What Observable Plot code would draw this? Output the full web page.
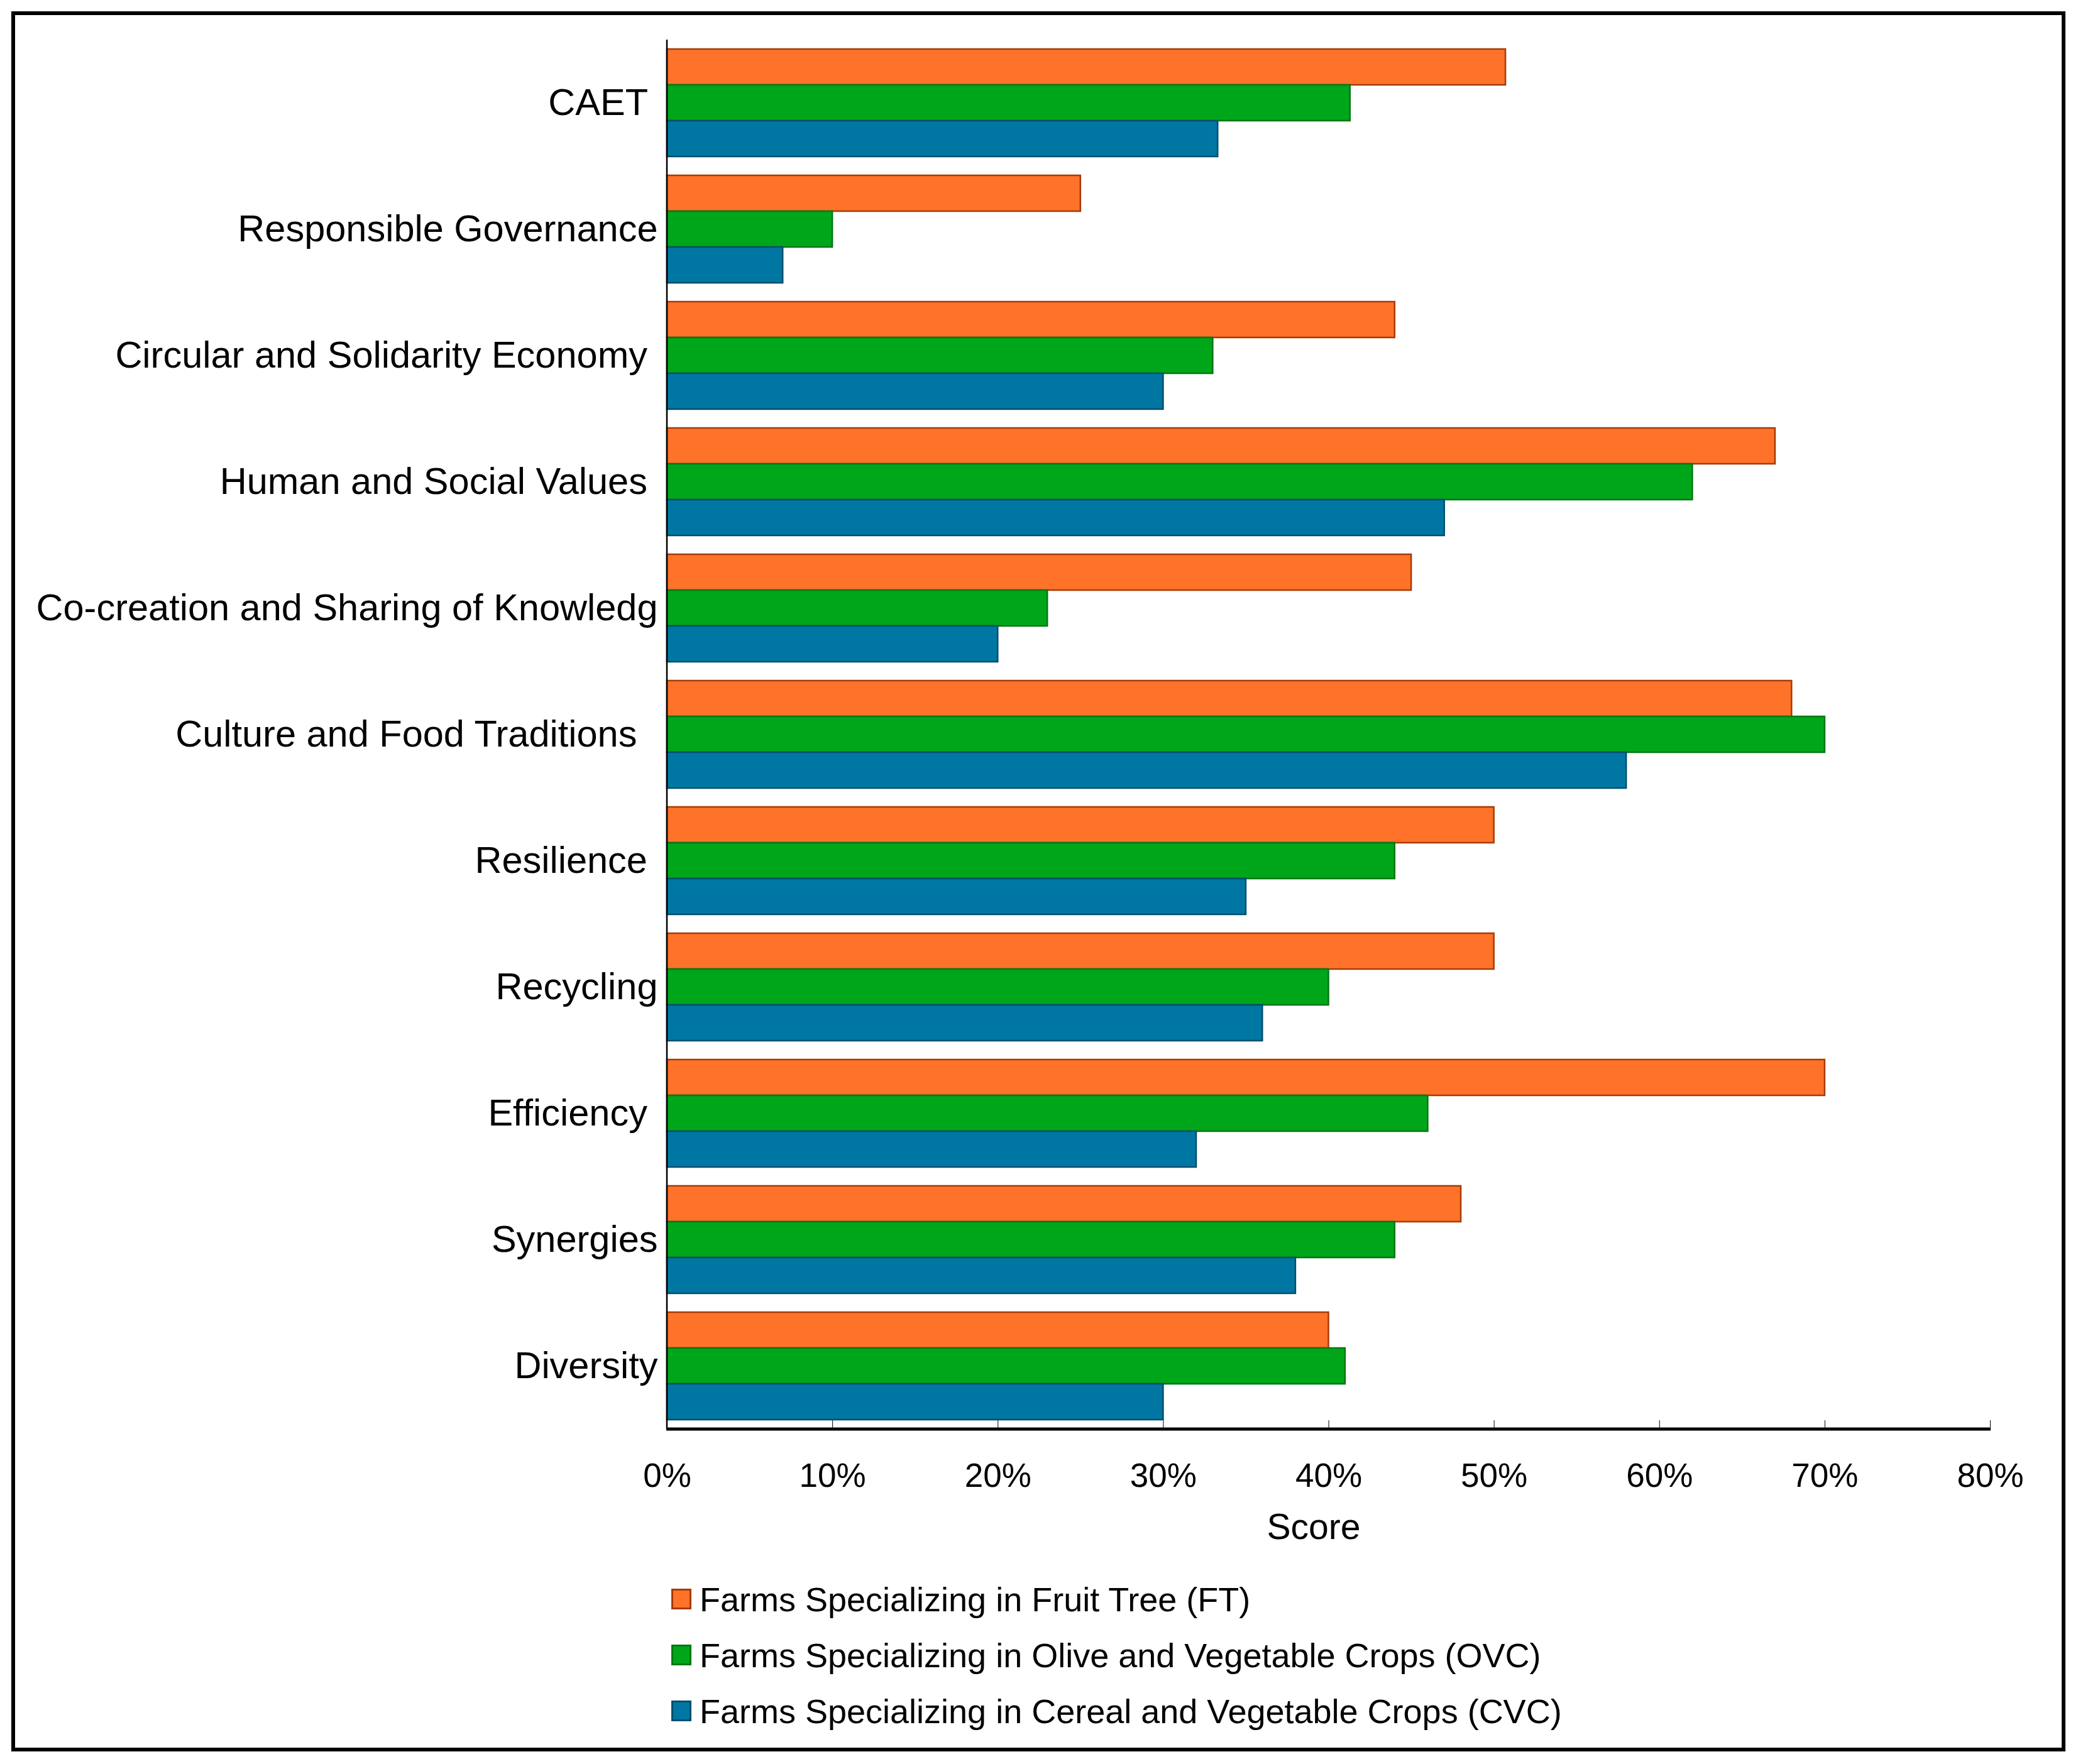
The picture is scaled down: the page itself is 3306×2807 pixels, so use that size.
<!DOCTYPE html>
<html>
<head>
<meta charset="utf-8">
<script src="https://cdn.jsdelivr.net/npm/d3@7"></script>
<script src="https://cdn.jsdelivr.net/npm/@observablehq/plot@0.6"></script>
<style>
  html, body { margin: 0; padding: 0; background: #fff; }
  body { width: 3306px; height: 2807px; position: relative; overflow: hidden; font-family: "Liberation Sans", Arial, sans-serif; }
  #frame { position: absolute; left: 18px; top: 18px; width: 3268px; height: 2769px; box-sizing: border-box; border: 6px solid #000; }
  #chart { position: absolute; left: 0; top: 0; }
  #legend { position: absolute; left: 1068px; top: 2500px; }
  .item { display: flex; align-items: center; height: 89px; font-size: 54px; color: #000; white-space: nowrap; }
  .sw { width: 32px; height: 33px; box-sizing: border-box; border: 3px solid; margin-right: 13px; }
  g[aria-label^="fy-axis"] text { font-size: 59.5px; white-space: pre; }
</style>
</head>
<body>
<div id="chart"></div>
<div id="legend"></div>
<div id="frame"></div>
<script>
const categories = [
  "CAET ",
  "Responsible Governance",
  "Circular and Solidarity Economy ",
  "Human and Social Values ",
  "Co-creation and Sharing of Knowledg",
  "Culture and Food Traditions  ",
  "Resilience ",
  "Recycling",
  "Efficiency ",
  "Synergies",
  "Diversity"
];
const seriesNames = [
  "Farms Specializing in Fruit Tree (FT)",
  "Farms Specializing in Olive and Vegetable Crops (OVC)",
  "Farms Specializing in Cereal and Vegetable Crops (CVC)"
];
const ftValues  = [50.7, 25, 44, 67, 45, 68, 50, 50, 70, 48, 40];
const ovcValues = [41.3, 10, 33, 62, 23, 70, 44, 40, 46, 44, 41];
const cvcValues = [33.3,  7, 30, 47, 20, 58, 35, 36, 32, 38, 30];
const xTicks = [0, 10, 20, 30, 40, 50, 60, 70, 80];
const fills   = ["#FF7229", "#00A61A", "#0077A3"];
const strokes = ["#A53C08", "#007812", "#004E6C"];

const seriesValues = [ftValues, ovcValues, cvcValues];
const rows = [];
seriesNames.forEach((s, si) => {
  categories.forEach((c, ci) => rows.push({category: c, series: s, value: seriesValues[si][ci]}));
});

const W = 3306, H = 2480, mT = 63, mB = 206, mL = 1061, mR = 140;

const plot = Plot.plot({
  width: W, height: H,
  marginTop: mT, marginBottom: mB, marginLeft: mL, marginRight: mR,
  style: {fontFamily: "'Liberation Sans', Arial, sans-serif", fontSize: "53px", color: "#000", background: "transparent", overflow: "visible"},
  x: {domain: [0, 80], ticks: xTicks, tickFormat: d => d + "%", tickSize: 16, tickPadding: 52, label: "Score", labelArrow: "none", labelAnchor: "center", labelOffset: 188},
  y: {domain: seriesNames, axis: null, paddingInner: 0, paddingOuter: 0},
  fy: {domain: categories, paddingInner: 0.14, paddingOuter: 0.07, label: null, tickSize: 0, tickPadding: 15},
  marks: seriesNames.map((s, i) =>
    Plot.barX(rows.filter(r => r.series === s), {
      x: "value", y: "series", fy: "category",
      fill: fills[i], stroke: strokes[i], strokeWidth: 2.5
    })
  )
});
document.getElementById("chart").appendChild(plot);

// axis lines via the plot's x scale
const xs = plot.scale("x");
const svg = d3.select(plot);
const x0 = xs.apply(0), x1 = xs.apply(80);
svg.append("line").attr("x1", x0).attr("x2", x0).attr("y1", mT).attr("y2", H - mB)
  .attr("stroke", "#000").attr("stroke-width", 2.5);
svg.append("line").attr("x1", x0 - 1).attr("x2", x1 + 1).attr("y1", H - mB).attr("y2", H - mB)
  .attr("stroke", "#000").attr("stroke-width", 5);
svg.selectAll('g[aria-label="x-axis label"] text, g[aria-label="x-axis label"]').style("font-size", "57px");
svg.selectAll("text").each(function() {
  const t = d3.select(this);
  if (t.text().includes("Score")) t.text("Score").attr("dx", -24);
});

// legend
const legend = d3.select("#legend");
seriesNames.forEach((s, i) => {
  const it = legend.append("div").attr("class", "item");
  it.append("div").attr("class", "sw").style("background", fills[i]).style("border-color", strokes[i]);
  it.append("span").text(s);
});
</script>
</body>
</html>
